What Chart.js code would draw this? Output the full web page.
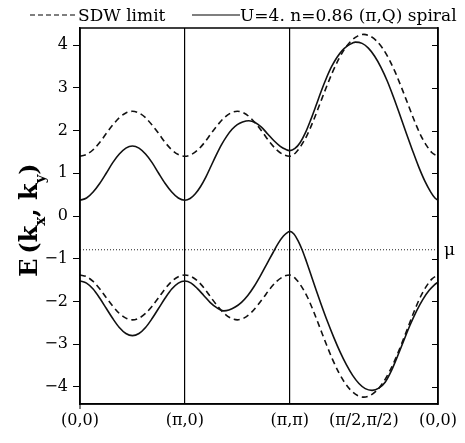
<!DOCTYPE html>
<html>
<head>
<meta charset="utf-8">
<script src="https://cdn.jsdelivr.net/npm/chart.js@4.4.0/dist/chart.umd.min.js"></script>
<style>
  body { margin: 0; background: #fff; }
  canvas { display: block; }
</style>
</head>
<body>
<canvas id="bands" width="465" height="443"></canvas>
<script>
// positions along the path in units of pi: (0,0) -> (pi,0) -> (pi,pi) -> (pi/2,pi/2) -> (0,0)
const pathTicks = [0, 1, 2, 2.707, 3.414];
const pathLabels = ['(0,0)', '(\u03c0,0)', '(\u03c0,\u03c0)', '(\u03c0/2,\u03c0/2)', '(0,0)'];
const energyTicks = [-4, -3, -2, -1, 0, 1, 2, 3, 4];
const muLevel = -0.79;

// SDW limit (dashed), upper and lower band
const sdwUpper = [
    [0, 1.40], [0.0625, 1.44], [0.125, 1.55], [0.1875, 1.72], [0.25, 1.93], [0.3125, 2.13], [0.375, 2.30], [0.4375, 2.41], [0.5, 2.45],
    [0.5625, 2.41], [0.625, 2.30], [0.6875, 2.13], [0.75, 1.93], [0.8125, 1.72], [0.875, 1.55], [0.9375, 1.44], [1, 1.40],
    [1.0625, 1.44], [1.125, 1.55], [1.1875, 1.72], [1.25, 1.93], [1.3125, 2.13], [1.375, 2.30], [1.4375, 2.41], [1.5, 2.45],
    [1.5625, 2.41], [1.625, 2.30], [1.6875, 2.13], [1.75, 1.93], [1.8125, 1.72], [1.875, 1.55], [1.9375, 1.44], [2, 1.40],
    [2.057, 1.48], [2.107, 1.64], [2.167, 1.90], [2.227, 2.24], [2.287, 2.62], [2.347, 3.00], [2.407, 3.36], [2.467, 3.67],
    [2.527, 3.92], [2.587, 4.10], [2.647, 4.21], [2.707, 4.25], [2.767, 4.21], [2.827, 4.10], [2.887, 3.92], [2.947, 3.67],
    [3.007, 3.36], [3.067, 3.00], [3.127, 2.62], [3.187, 2.24], [3.247, 1.90], [3.307, 1.64], [3.357, 1.48], [3.414, 1.40]
];
const sdwLower = [
    [0, -1.38], [0.0625, -1.42], [0.125, -1.53], [0.1875, -1.70], [0.25, -1.91], [0.3125, -2.11], [0.375, -2.28], [0.4375, -2.39], [0.5, -2.43],
    [0.5625, -2.39], [0.625, -2.28], [0.6875, -2.11], [0.75, -1.91], [0.8125, -1.70], [0.875, -1.53], [0.9375, -1.42], [1, -1.38],
    [1.0625, -1.42], [1.125, -1.53], [1.1875, -1.70], [1.25, -1.91], [1.3125, -2.11], [1.375, -2.28], [1.4375, -2.39], [1.5, -2.43],
    [1.5625, -2.39], [1.625, -2.28], [1.6875, -2.11], [1.75, -1.91], [1.8125, -1.70], [1.875, -1.53], [1.9375, -1.42], [2, -1.38],
    [2.057, -1.47], [2.107, -1.63], [2.167, -1.89], [2.227, -2.23], [2.287, -2.61], [2.347, -2.99], [2.407, -3.35], [2.467, -3.66],
    [2.527, -3.91], [2.587, -4.09], [2.647, -4.20], [2.707, -4.24], [2.767, -4.20], [2.827, -4.09], [2.887, -3.91], [2.947, -3.66],
    [3.007, -3.35], [3.067, -2.99], [3.127, -2.61], [3.187, -2.23], [3.247, -1.89], [3.307, -1.63], [3.357, -1.47], [3.414, -1.38]
];

// U=4, n=0.86 (pi,Q) spiral (solid)
const spiralUpper = [
    [0, 0.37], [0.0625, 0.42], [0.125, 0.56], [0.1875, 0.76], [0.25, 1.00], [0.3125, 1.25], [0.375, 1.45], [0.4375, 1.59], [0.5, 1.64],
    [0.5625, 1.59], [0.625, 1.45], [0.6875, 1.25], [0.75, 1.00], [0.8125, 0.76], [0.875, 0.56], [0.9375, 0.42], [1, 0.37],
    [1.05, 0.41], [1.1, 0.52], [1.15, 0.69], [1.2, 0.91], [1.25, 1.17], [1.3, 1.43], [1.35, 1.67], [1.4, 1.87], [1.45, 2.03],
    [1.5, 2.14], [1.55, 2.20], [1.61, 2.23], [1.67, 2.19], [1.73, 2.08], [1.79, 1.92], [1.85, 1.76], [1.91, 1.63], [1.96, 1.56], [2, 1.53],
    [2.05, 1.58], [2.1, 1.72], [2.15, 1.95], [2.2, 2.25], [2.25, 2.58], [2.3, 2.92], [2.35, 3.23], [2.4, 3.50], [2.45, 3.71],
    [2.5, 3.87], [2.55, 3.98], [2.6, 4.05], [2.626, 4.07], [2.69, 4.04], [2.75, 3.93], [2.81, 3.74], [2.87, 3.48], [2.93, 3.16],
    [2.99, 2.78], [3.05, 2.37], [3.11, 1.95], [3.17, 1.54], [3.23, 1.15], [3.29, 0.81], [3.345, 0.56], [3.385, 0.42], [3.414, 0.37]
];
const spiralLower = [
    [0, -1.52], [0.0625, -1.57], [0.125, -1.71], [0.1875, -1.92], [0.25, -2.16], [0.3125, -2.40], [0.375, -2.61], [0.4375, -2.75], [0.5, -2.80],
    [0.5625, -2.75], [0.625, -2.61], [0.6875, -2.40], [0.75, -2.16], [0.8125, -1.92], [0.875, -1.71], [0.9375, -1.57], [1, -1.52],
    [1.06, -1.57], [1.12, -1.70], [1.18, -1.86], [1.24, -2.02], [1.30, -2.14], [1.37, -2.22], [1.42, -2.20], [1.48, -2.13],
    [1.54, -2.02], [1.60, -1.86], [1.66, -1.65], [1.72, -1.40], [1.78, -1.13], [1.84, -0.86], [1.89, -0.64], [1.94, -0.47], [1.97, -0.40], [2, -0.36],
    [2.04, -0.42], [2.08, -0.58], [2.12, -0.80], [2.16, -1.07], [2.20, -1.36], [2.25, -1.72], [2.30, -2.07], [2.36, -2.47],
    [2.42, -2.84], [2.48, -3.18], [2.54, -3.48], [2.60, -3.73], [2.66, -3.92], [2.72, -4.04], [2.785, -4.08], [2.85, -4.03],
    [2.91, -3.89], [2.97, -3.62], [3.03, -3.27], [3.09, -2.90], [3.15, -2.54], [3.21, -2.22], [3.27, -1.95], [3.33, -1.74],
    [3.38, -1.61], [3.414, -1.55]
];

const SERIF = '"DejaVu Serif", "Liberation Serif", serif';

function toPoints(rows) {
    return rows.map(r => ({ x: r[0], y: r[1] }));
}

function curve(rows, dashed) {
    return {
        data: toPoints(rows),
        borderColor: '#111',
        borderWidth: 1.6,
        borderDash: dashed ? [6, 4] : [],
        cubicInterpolationMode: 'monotone',
        pointRadius: 0,
        showLine: true,
        fill: false
    };
}

// frame, inner ticks on the right, mu label, legend and y title
const decorations = {
    id: 'decorations',
    afterDraw(chart) {
        const ctx = chart.ctx;
        const area = chart.chartArea;
        const yScale = chart.scales.y;
        ctx.save();
        ctx.strokeStyle = '#000';
        ctx.lineWidth = 1.5;
        ctx.setLineDash([]);
        ctx.strokeRect(area.left, area.top, area.right - area.left, area.bottom - area.top);

        // right side ticks point inward
        ctx.lineWidth = 1;
        energyTicks.forEach(v => {
            const py = Math.round(yScale.getPixelForValue(v)) + 0.5;
            ctx.beginPath();
            ctx.moveTo(area.right - 6, py);
            ctx.lineTo(area.right, py);
            ctx.stroke();
        });

        // small tick under the origin
        ctx.beginPath();
        ctx.moveTo(area.left, area.bottom);
        ctx.lineTo(area.left, area.bottom + 5);
        ctx.stroke();

        ctx.fillStyle = '#000';
        ctx.font = '17px ' + SERIF;
        ctx.textBaseline = 'middle';
        ctx.fillText('\u03bc', area.right + 6, yScale.getPixelForValue(muLevel) + 1);

        // legend
        ctx.textBaseline = 'alphabetic';
        ctx.lineWidth = 1.2;
        ctx.setLineDash([5, 3]);
        ctx.beginPath();
        ctx.moveTo(30, 15);
        ctx.lineTo(77, 15);
        ctx.stroke();
        ctx.setLineDash([]);
        ctx.fillText('SDW limit', 78, 21);
        ctx.beginPath();
        ctx.moveTo(192, 15);
        ctx.lineTo(240, 15);
        ctx.stroke();
        ctx.fillText('U=4. n=0.86 (\u03c0,Q) spiral', 240, 21);

        // y axis title with subscripts
        const parts = [['E\u2009(k', false], ['x', true], [', k', false], ['y', true], [')', false]];
        const bigFont = 'bold 24px ' + SERIF;
        const smallFont = 'bold 15px ' + SERIF;
        let total = 0;
        parts.forEach(p => {
            ctx.font = p[1] ? smallFont : bigFont;
            total += ctx.measureText(p[0]).width;
        });
        ctx.translate(30, 220);
        ctx.rotate(-Math.PI / 2);
        let x = -total / 2;
        parts.forEach(p => {
            ctx.font = p[1] ? smallFont : bigFont;
            ctx.fillText(p[0], x, p[1] ? 15 : 7);
            x += ctx.measureText(p[0]).width;
        });
        ctx.restore();
    }
};

const chart = new Chart(document.getElementById('bands'), {
    type: 'scatter',
    data: {
        datasets: [
            curve(sdwUpper, true),
            curve(sdwLower, true),
            curve(spiralUpper, false),
            curve(spiralLower, false),
            {
                data: [{ x: pathTicks[0], y: muLevel }, { x: pathTicks[pathTicks.length - 1], y: muLevel }],
                borderColor: '#222',
                borderWidth: 1,
                borderDash: [1, 2],
                pointRadius: 0,
                showLine: true
            }
        ]
    },
    options: {
        responsive: false,
        devicePixelRatio: 1,
        animation: false,
        layout: { padding: { top: 28, left: 0, right: 0, bottom: 0 } },
        plugins: {
            legend: { display: false },
            tooltip: { enabled: false }
        },
        scales: {
            x: {
                type: 'linear',
                min: pathTicks[0],
                max: pathTicks[pathTicks.length - 1],
                afterBuildTicks: (scale) => { scale.ticks = pathTicks.map(v => ({ value: v })); },
                afterFit: (scale) => { scale.height = 39; },
                ticks: {
                    autoSkip: false,
                    maxRotation: 0,
                    minRotation: 0,
                    padding: 7,
                    color: '#000',
                    font: { family: SERIF, size: 16 },
                    callback: (value, index) => pathLabels[index]
                },
                grid: {
                    drawTicks: false,
                    color: (c) => (c.index === 1 || c.index === 2) ? '#000' : 'rgba(0,0,0,0)',
                    lineWidth: 1.2
                },
                border: { display: true, color: '#000', width: 1.5 }
            },
            y: {
                type: 'linear',
                min: -4.4,
                max: 4.4,
                afterBuildTicks: (scale) => { scale.ticks = energyTicks.map(v => ({ value: v })); },
                afterFit: (scale) => { scale.width = 80; },
                ticks: {
                    padding: 5,
                    color: '#000',
                    font: { family: SERIF, size: 16 },
                    callback: (value) => String(value).replace('-', '\u2212')
                },
                grid: {
                    drawOnChartArea: false,
                    drawTicks: true,
                    tickLength: 7,
                    tickColor: '#000',
                    tickWidth: 1
                },
                border: { display: true, color: '#000', width: 1.5 }
            },
            y2: {
                type: 'linear',
                position: 'right',
                min: -4.4,
                max: 4.4,
                afterFit: (scale) => { scale.width = 27; },
                ticks: { display: false },
                grid: { drawOnChartArea: false, drawTicks: false },
                border: { display: true, color: '#000', width: 1.5 }
            }
        }
    },
    plugins: [decorations]
});
</script>
</body>
</html>
